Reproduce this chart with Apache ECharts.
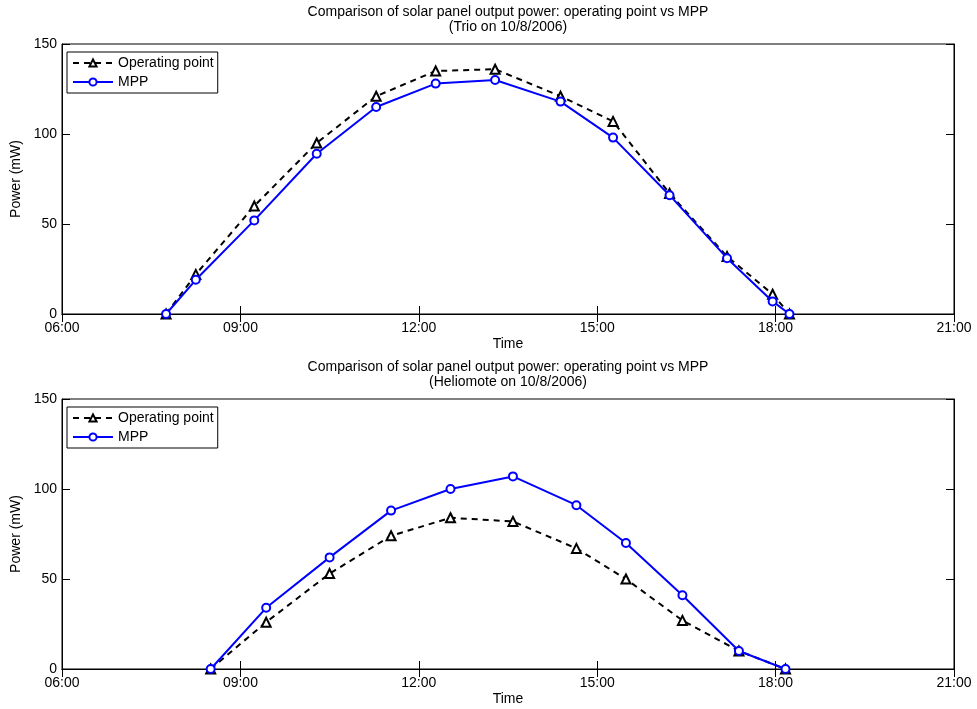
<!DOCTYPE html>
<html>
<head>
<meta charset="utf-8">
<script src="https://cdn.jsdelivr.net/npm/echarts@6/dist/echarts.min.js"></script>
<style>
  html, body { margin: 0; padding: 0; background: #fff; }
  #chart { width: 977px; height: 709px; }
</style>
</head>
<body>
<div id="chart"></div>
<script>
// Trio, 10/8/2006
const trioTimes = ["07:45", "08:15", "09:14", "10:17", "11:17", "12:17", "13:17", "14:23", "15:16", "16:13", "17:11", "17:57", "18:14"];
const trioOperating = [0, 22, 60, 95, 121, 135, 136, 121, 107, 67, 32, 11, 0];
const trioMpp = [0, 19, 52, 89, 115, 128, 130, 118, 98, 66, 31, 7, 0];

// Heliomote, 10/8/2006
const helioTimes = ["08:30", "09:26", "10:30", "11:32", "12:32", "13:35", "14:39", "15:29", "16:26", "17:23", "18:10"];
const helioOperating = [0, 26, 53, 74, 84, 82, 67, 50, 27, 10, 0];
const helioMpp = [0, 34, 62, 88, 100, 107, 91, 70, 41, 10, 0];

const hourTicks = [6, 9, 12, 15, 18, 21];
const powerTicks = [0, 50, 100, 150];

const titleLine = "Comparison of solar panel output power: operating point vs MPP";
const FONT = "Liberation Sans, Arial, Helvetica, sans-serif";
const FS = 14;

function toHours(s) {
  const [h, m] = s.split(":").map(Number);
  return h + m / 60;
}
function pairs(times, vals) {
  return times.map((t, i) => [toHours(t), vals[i]]);
}
function hhmm(v) {
  return (v < 10 ? "0" : "") + v + ":00";
}

const chart = echarts.init(document.getElementById("chart"));

const grids = [
  { left: 62, top: 44, width: 892, height: 270 },
  { left: 62, top: 399, width: 892, height: 270 },
];

const tickStyle = { show: true, inside: true, length: 8, lineStyle: { color: "#000", width: 1 } };
const lineAxis = { show: true, lineStyle: { color: "#000", width: 1 } };
const txt = { color: "#000", fontSize: FS, fontFamily: FONT };

function xAxes(gi) {
  const base = {
    type: "value",
    gridIndex: gi,
    min: hourTicks[0],
    max: hourTicks[hourTicks.length - 1],
    interval: 3,
    splitLine: { show: false },
    axisLine: lineAxis,
    axisTick: tickStyle,
  };
  return [
    Object.assign({}, base, {
      position: "bottom",
      name: "Time",
      nameLocation: "middle",
      nameGap: 23,
      nameTextStyle: txt,
      axisLabel: Object.assign({ margin: 7, formatter: hhmm }, txt),
    }),
    Object.assign({}, base, { position: "top", axisLabel: { show: false } }),
  ];
}
function yAxes(gi) {
  const base = {
    type: "value",
    gridIndex: gi,
    min: powerTicks[0],
    max: powerTicks[powerTicks.length - 1],
    interval: 50,
    splitLine: { show: false },
    axisLine: lineAxis,
    axisTick: tickStyle,
  };
  return [
    Object.assign({}, base, {
      position: "left",
      name: "Power (mW)",
      nameLocation: "middle",
      nameGap: 33,
      nameTextStyle: txt,
      axisLabel: Object.assign({ margin: 5 }, txt),
    }),
    Object.assign({}, base, { position: "right", axisLabel: { show: false } }),
  ];
}

function seriesFor(gi, times, op, mpp) {
  return [
    {
      name: "Operating point",
      type: "line",
      xAxisIndex: gi * 2,
      yAxisIndex: gi * 2,
      data: pairs(times, op),
      symbol: "emptyTriangle",
      symbolSize: 9,
      showAllSymbol: true,
      lineStyle: { color: "#000", width: 2, type: [6, 5] },
      itemStyle: { color: "#000", borderColor: "#000", borderWidth: 2 },
      z: 2,
    },
    {
      name: "MPP",
      type: "line",
      xAxisIndex: gi * 2,
      yAxisIndex: gi * 2,
      data: pairs(times, mpp),
      symbol: "emptyCircle",
      symbolSize: 8,
      showAllSymbol: true,
      lineStyle: { color: "#0000ff", width: 2 },
      itemStyle: { color: "#0000ff", borderColor: "#0000ff", borderWidth: 1.6 },
      z: 3,
    },
  ];
}

function legendAt(top) {
  return {
    left: 67,
    top: top,
    orient: "vertical",
    data: ["Operating point", "MPP"],
    itemWidth: 40,
    itemHeight: 9,
    itemGap: 5,
    padding: [4, 4, 4, 5],
    borderColor: "#000",
    borderWidth: 1,
    backgroundColor: "#fff",
    textStyle: txt,
    selectedMode: false,
  };
}

function titleText(y, line2) {
  const font = FS + "px " + FONT;
  return [
    { type: "text", x: 508, y: y, style: { text: titleLine, textAlign: "center", textVerticalAlign: "middle", fill: "#000", font: font } },
    { type: "text", x: 508, y: y + 15, style: { text: line2, textAlign: "center", textVerticalAlign: "middle", fill: "#000", font: font } },
  ];
}

chart.setOption({
  animation: false,
  backgroundColor: "#fff",
  grid: grids.map((g) => Object.assign({ show: true, borderColor: "#000", borderWidth: 1 }, g)),
  xAxis: xAxes(0).concat(xAxes(1)),
  yAxis: yAxes(0).concat(yAxes(1)),
  legend: [legendAt(52), legendAt(407)],
  graphic: titleText(12, "(Trio on 10/8/2006)").concat(titleText(367, "(Heliomote on 10/8/2006)")),
  series: seriesFor(0, trioTimes, trioOperating, trioMpp).concat(seriesFor(1, helioTimes, helioOperating, helioMpp)),
});
</script>
</body>
</html>
